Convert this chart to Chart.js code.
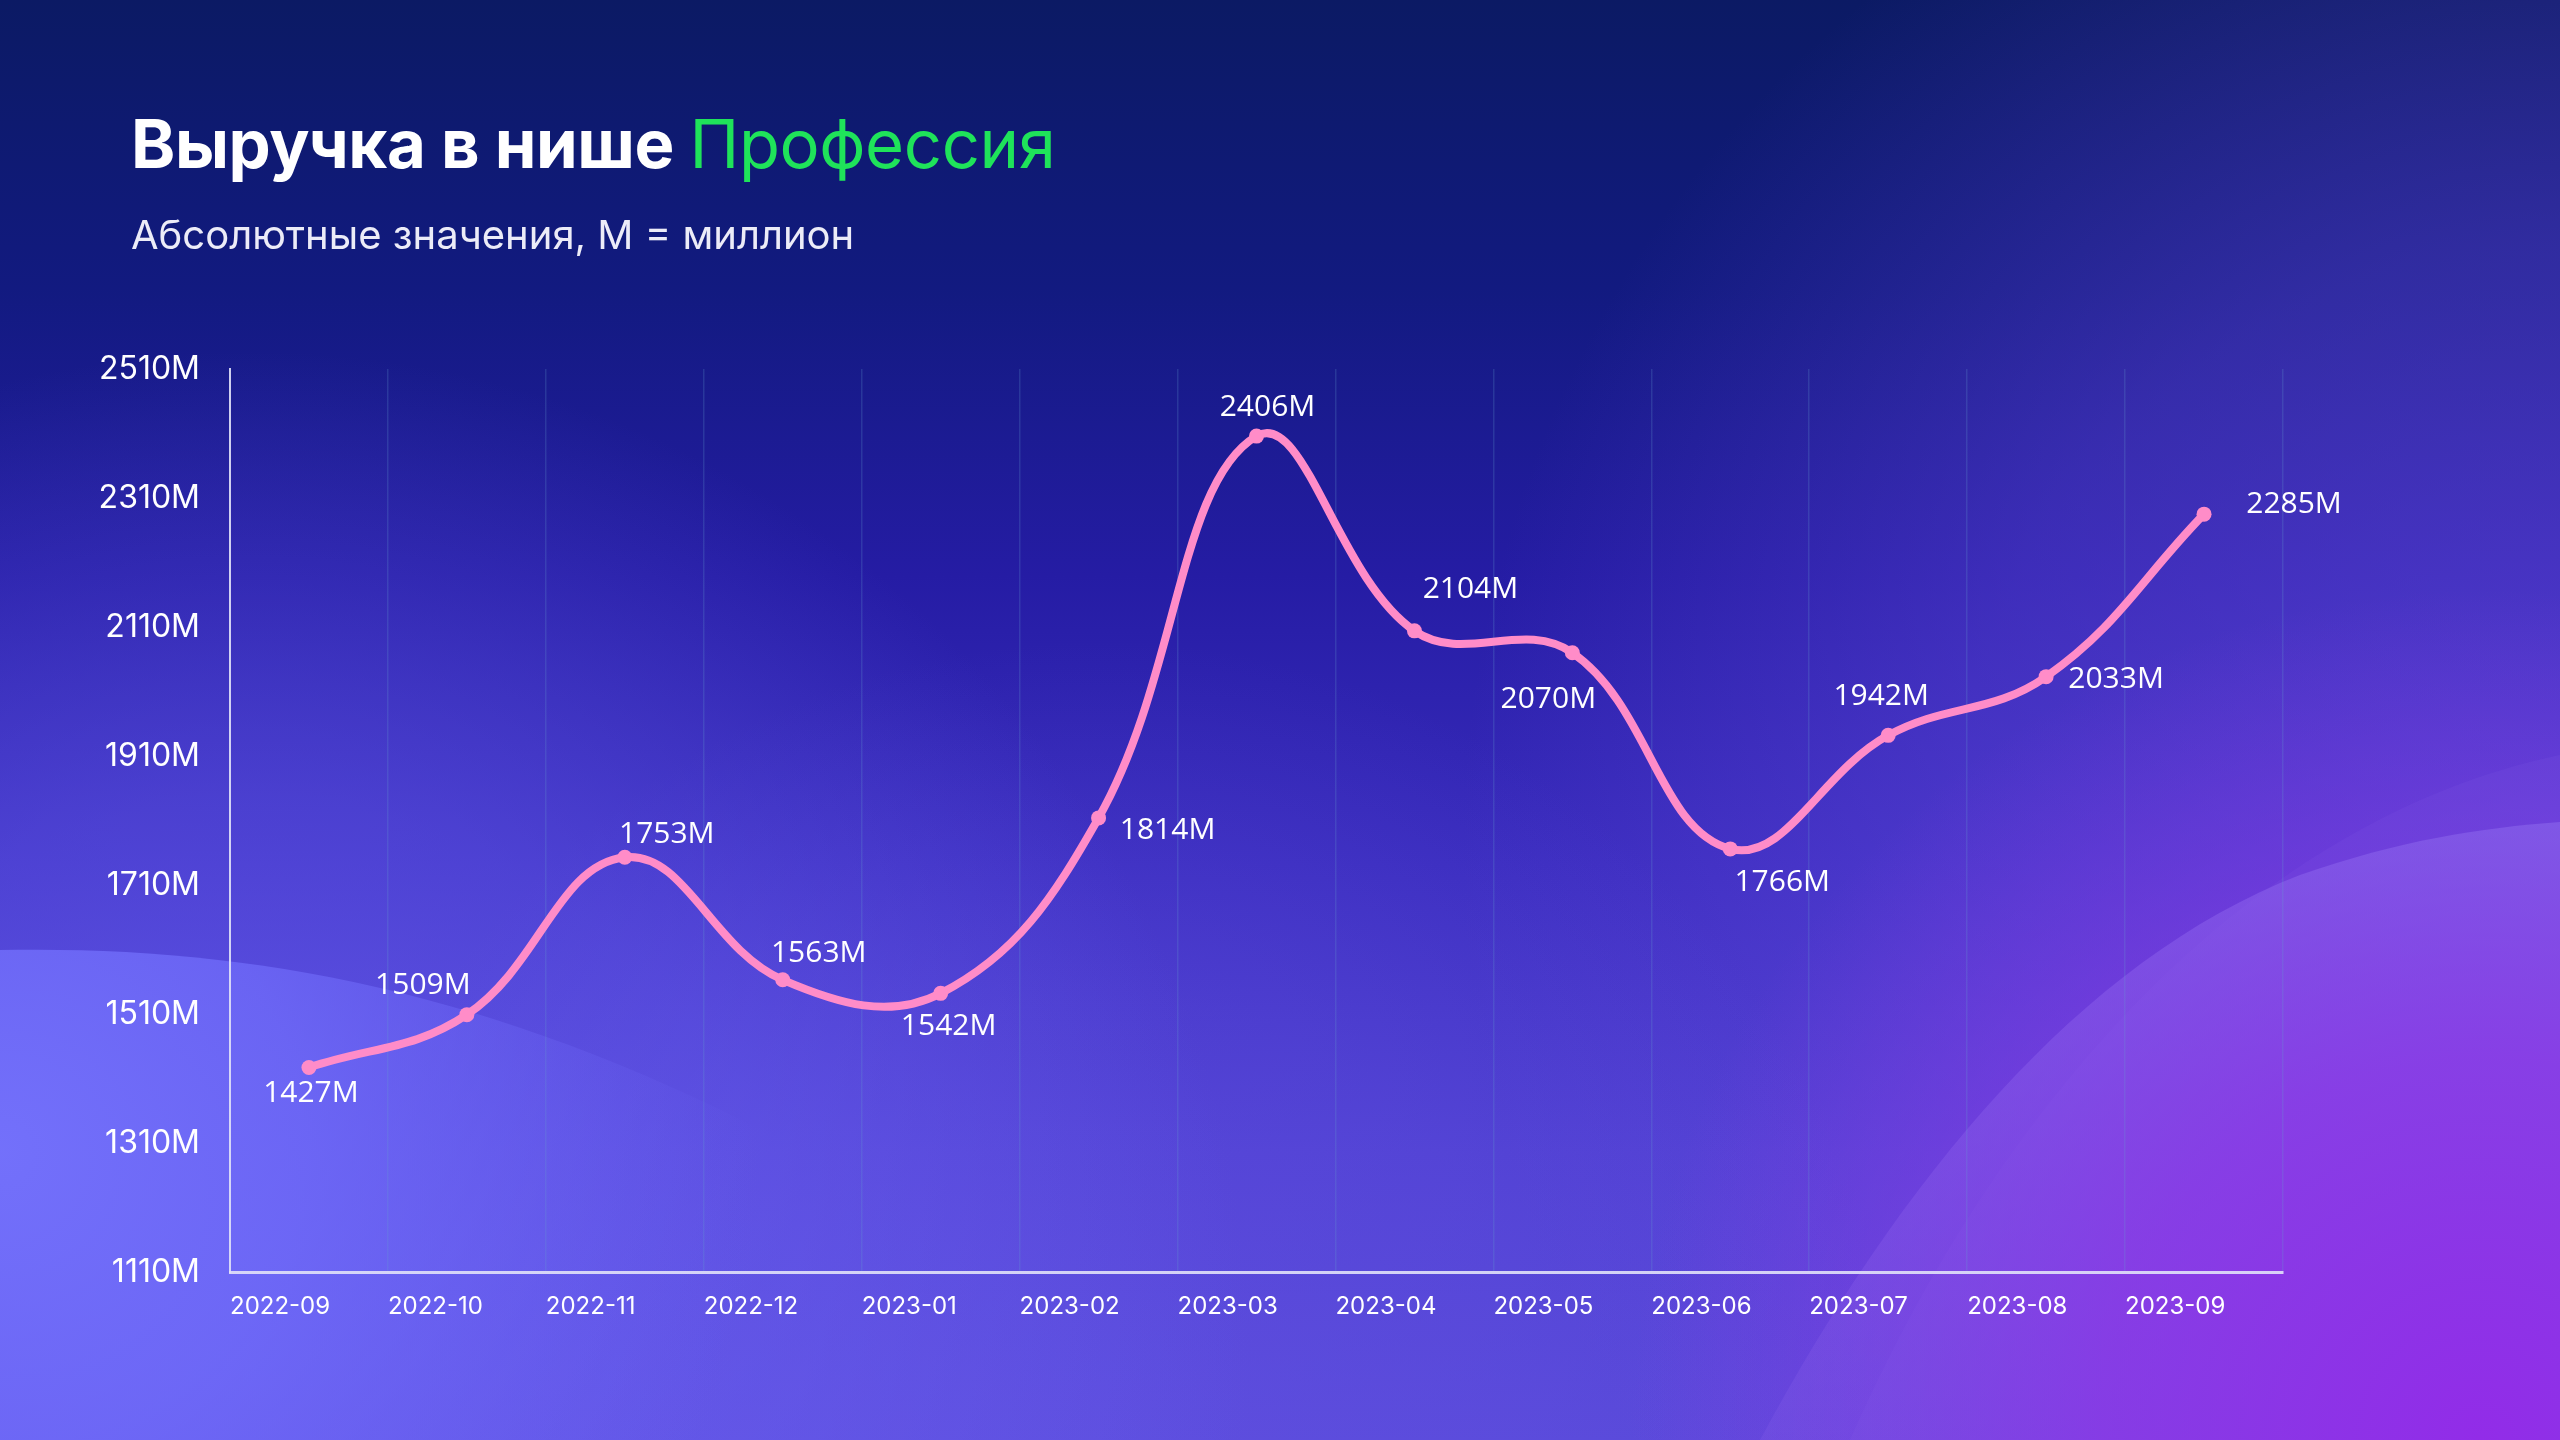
<!DOCTYPE html>
<html lang="ru">
<head>
<meta charset="utf-8">
<title>Выручка в нише Профессия</title>
<script src="https://cdn.jsdelivr.net/npm/chart.js@4.4.0/dist/chart.umd.min.js"></script>
<style>
  html, body { margin: 0; padding: 0; width: 2560px; height: 1440px; overflow: hidden; background: #1a1a8a; }
  #wrap { position: relative; width: 2560px; height: 1440px; }
  #chart { position: absolute; left: 0; top: 0; }
  .title { position: absolute; left: 131px; top: 110px; font-family: Inter, Roboto, sans-serif; font-size: 67px; font-weight: 700; color: #ffffff; white-space: nowrap; line-height: 1; letter-spacing: -0.4px; }
  .title span { color: #1fe35a; font-weight: 400; }
  .subtitle { position: absolute; left: 131px; top: 215px; font-family: Inter, Roboto, sans-serif; font-size: 40px; font-weight: 400; color: #ececf8; white-space: nowrap; line-height: 1; }
</style>
</head>
<body>
<div id="wrap">
  <canvas id="chart" width="2560" height="1440"></canvas>
  <div class="title">Выручка в нише <span>Профессия</span></div>
  <div class="subtitle">Абсолютные значения, M = миллион</div>
</div>
<script>
const months = ['2022-09', '2022-10', '2022-11', '2022-12', '2023-01', '2023-02', '2023-03',
                '2023-04', '2023-05', '2023-06', '2023-07', '2023-08', '2023-09'];
const revenue = [1427, 1509, 1753, 1563, 1542, 1814, 2406, 2104, 2070, 1766, 1942, 2033, 2285];
const yMin = 1110;
const yMax = 2510;
const yStep = 200;

// where each value label sits relative to its point (px)
const labelShift = [
  [2, 26], [-44, -29], [42, -23], [36, -26], [8, 33], [69, 13], [11, -29],
  [56, -41], [-24, 47], [52, 34], [-7, -39], [70, 3], [90, -10]
];

const lineColor = '#ff8cc8';

function blob(ctx, x, y, r, rgb, a, w, h) {
  const g = ctx.createRadialGradient(x, y, 0, x, y, r);
  g.addColorStop(0, `rgba(${rgb},${a})`);
  g.addColorStop(0.55, `rgba(${rgb},${a * 0.6})`);
  g.addColorStop(1, `rgba(${rgb},0)`);
  ctx.fillStyle = g;
  ctx.fillRect(0, 0, w, h);
}

const backdrop = {
  id: 'backdrop',
  beforeDraw(chart) {
    const ctx = chart.ctx;
    const w = chart.width, h = chart.height;
    ctx.save();
    let g = ctx.createLinearGradient(0, 0, 0, h);
    g.addColorStop(0, '#0b1a64');
    g.addColorStop(0.2, '#121a80');
    g.addColorStop(0.4, '#251ca4');
    g.addColorStop(0.6, '#3a2cbe');
    g.addColorStop(0.8, '#4e3ed0');
    g.addColorStop(1, '#5848d8');
    ctx.fillStyle = g;
    ctx.fillRect(0, 0, w, h);

    // right side a bit lighter
    blob(ctx, 2560, 850, 1100, '112,80,232', 0.55, w, h);
    // bottom middle and bottom left glow
    blob(ctx, 1100, 1440, 800, '100,85,230', 0.45, w, h);
    blob(ctx, 250, 1350, 1000, '108,100,245', 0.65, w, h);

    // soft light wave bottom left, top edge only visible near the left side
    ctx.beginPath();
    ctx.moveTo(0, 950);
    ctx.bezierCurveTo(250, 945, 500, 990, 800, 1150);
    ctx.bezierCurveTo(1000, 1260, 1150, 1360, 1250, 1440);
    ctx.lineTo(0, 1440);
    ctx.closePath();
    g = ctx.createRadialGradient(0, 1150, 0, 0, 1150, 760);
    g.addColorStop(0, 'rgba(116,114,252,0.95)');
    g.addColorStop(0.4, 'rgba(112,108,250,0.75)');
    g.addColorStop(1, 'rgba(108,100,245,0)');
    ctx.fillStyle = g;
    ctx.fill();

    // faint outer wave right
    ctx.beginPath();
    ctx.moveTo(1850, 1440);
    ctx.bezierCurveTo(2000, 1100, 2250, 820, 2560, 755);
    ctx.lineTo(2560, 1440);
    ctx.closePath();
    ctx.fillStyle = 'rgba(140,125,240,0.12)';
    ctx.fill();

    // light wave right
    ctx.beginPath();
    ctx.moveTo(1760, 1440);
    ctx.bezierCurveTo(1900, 1180, 2080, 960, 2300, 875);
    ctx.bezierCurveTo(2400, 840, 2480, 828, 2560, 822);
    ctx.lineTo(2560, 1440);
    ctx.closePath();
    g = ctx.createLinearGradient(0, 820, 0, 1440);
    g.addColorStop(0, 'rgba(138,130,240,0.6)');
    g.addColorStop(0.5, 'rgba(138,120,238,0.42)');
    g.addColorStop(1, 'rgba(138,110,236,0.2)');
    ctx.fillStyle = g;
    ctx.fill();

    // purple corner bottom right
    g = ctx.createRadialGradient(2480, 1440, 0, 2480, 1440, 850);
    g.addColorStop(0, 'rgba(146,44,232,1)');
    g.addColorStop(0.45, 'rgba(142,52,230,0.75)');
    g.addColorStop(1, 'rgba(140,60,230,0)');
    ctx.fillStyle = g;
    ctx.fillRect(0, 0, w, h);
    ctx.restore();
  }
};

const valueLabels = {
  id: 'valueLabels',
  afterDatasetsDraw(chart) {
    const ctx = chart.ctx;
    const meta = chart.getDatasetMeta(0);
    ctx.save();
    ctx.font = '30px "Open Sans", "Noto Sans", sans-serif';
    ctx.fillStyle = '#ffffff';
    ctx.textAlign = 'center';
    ctx.textBaseline = 'middle';
    meta.data.forEach((pt, i) => {
      const s = labelShift[i];
      ctx.fillText(revenue[i] + 'M', pt.x + s[0], pt.y + s[1]);
    });
    ctx.restore();
  }
};

const ctx = document.getElementById('chart').getContext('2d');
const chart = new Chart(ctx, {
  type: 'line',
  data: {
    labels: months,
    datasets: [{
      data: revenue,
      borderColor: lineColor,
      backgroundColor: lineColor,
      borderWidth: 8,
      tension: 0.4,
      pointRadius: 7.5,
      pointBorderWidth: 0,
      pointBackgroundColor: lineColor,
      fill: false
    }]
  },
  options: {
    responsive: false,
    animation: false,
    layout: { padding: { top: 369, right: 277, bottom: 0, left: 0 } },
    plugins: {
      legend: { display: false },
      title: { display: false },
      tooltip: { enabled: false }
    },
    scales: {
      x: {
        offset: true,
        grid: { offset: true, drawTicks: false, color: 'rgba(100,160,210,0.22)', lineWidth: 1.5 },
        border: { display: true, color: 'rgba(225,225,248,0.9)', width: 3 },
        ticks: {
          color: '#ffffff',
          font: { family: 'Inter, Roboto, sans-serif', size: 24 },
          padding: 20,
          align: 'start',
          maxRotation: 0,
          autoSkip: false
        },
        afterFit(scale) { scale.height = 168; }
      },
      y: {
        min: yMin,
        max: yMax,
        grid: { display: false, drawTicks: false },
        border: { display: true, color: 'rgba(225,225,248,0.9)', width: 2 },
        ticks: {
          stepSize: yStep,
          color: '#ffffff',
          font: { family: 'Inter, Roboto, sans-serif', size: 32 },
          padding: 30,
          callback: v => v + 'M'
        },
        afterFit(scale) { scale.width = 230; }
      }
    }
  },
  plugins: [backdrop, valueLabels]
});

// labels start at the left edge of each month slot
const xs = chart.scales.x;
chart.options.scales.x.ticks.labelOffset = -(xs.width / months.length) / 2;
chart.update('none');
</script>
</body>
</html>
